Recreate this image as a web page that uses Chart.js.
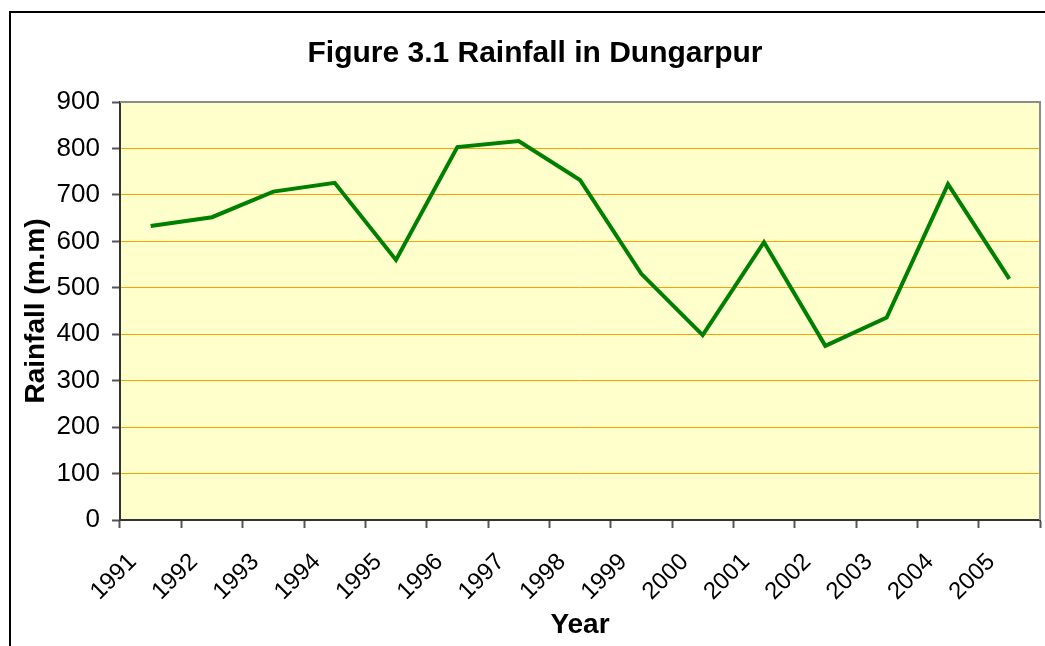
<!DOCTYPE html>
<html>
<head>
<meta charset="utf-8">
<script src="https://cdn.jsdelivr.net/npm/chart.js@4"></script>
<style>
  html, body { margin: 0; padding: 0; background: #fff; }
  #wrap { width: 1045px; height: 646px; position: relative; }
</style>
</head>
<body>
<div id="wrap"><canvas id="rainChart"></canvas></div>
<script>
// Données
const years = ['1991', '1992', '1993', '1994', '1995', '1996', '1997', '1998',
               '1999', '2000', '2001', '2002', '2003', '2004', '2005'];
const rainfall = [633, 652, 707, 726, 560, 803, 816, 732, 530, 398, 598, 375, 436, 723, 519];
const yMin = 0;
const yMax = 900;
const yStep = 100;

const FONT = '"Liberation Sans", Arial, sans-serif';

// Cadre extérieur + fond jaune de la zone de tracé
const framePlugin = {
    id: 'frame',
    beforeDraw(chart) {
        const ctx = chart.ctx;
        const a = chart.chartArea;
        ctx.save();
        ctx.fillStyle = '#ffffff';
        ctx.fillRect(0, 0, chart.width, chart.height);
        ctx.strokeStyle = '#000000';
        ctx.lineWidth = 2;
        ctx.beginPath();
        ctx.moveTo(10, chart.height);
        ctx.lineTo(10, 12);
        ctx.lineTo(chart.width, 12);
        ctx.stroke();
        ctx.fillStyle = '#FFFFCC';
        ctx.fillRect(a.left, a.top, a.right - a.left, a.bottom - a.top);
        ctx.restore();
    },
    afterDatasetsDraw(chart) {
        const ctx = chart.ctx;
        const a = chart.chartArea;
        ctx.save();
        ctx.strokeStyle = '#8c8c8c';
        ctx.lineWidth = 2;
        ctx.beginPath();
        ctx.moveTo(a.left, a.top);
        ctx.lineTo(a.right, a.top);
        ctx.lineTo(a.right, a.bottom);
        ctx.stroke();
        ctx.restore();
    }
};

const ctx = document.getElementById('rainChart').getContext('2d');
new Chart(ctx, {
    type: 'line',
    data: {
        labels: years,
        datasets: [{
            label: 'Rainfall',
            data: rainfall,
            borderColor: '#008000',
            borderWidth: 4,
            pointRadius: 0,
            tension: 0,
            fill: false
        }]
    },
    options: {
        responsive: true,
        maintainAspectRatio: false,
        animation: false,
        layout: {
            padding: { left: 30, right: 5, top: 12, bottom: 0 }
        },
        plugins: {
            legend: { display: false },
            tooltip: { enabled: false },
            title: {
                display: true,
                text: 'Figure 3.1 Rainfall in Dungarpur',
                color: '#000',
                font: { family: FONT, size: 30, weight: 'bold' },
                padding: { top: 24, bottom: 30 }
            }
        },
        scales: {
            x: {
                offset: true,
                afterFit: scale => {
                    scale.height = 126;
                    scale.paddingLeft = 0;
                    scale.paddingRight = 0;
                },
                grid: {
                    offset: true,
                    drawOnChartArea: false,
                    tickLength: 8,
                    tickColor: '#555',
                    tickWidth: 2
                },
                border: { color: '#333', width: 2 },
                ticks: {
                    color: '#000',
                    font: { family: FONT, size: 24 },
                    maxRotation: 45,
                    minRotation: 45,
                    padding: 20,
                    labelOffset: -18
                },
                title: {
                    display: true,
                    text: 'Year',
                    color: '#000',
                    font: { family: FONT, size: 28, weight: 'bold' },
                    padding: { top: 0, bottom: 4 }
                }
            },
            y: {
                min: yMin,
                max: yMax,
                afterFit: scale => { scale.width = 90; },
                grid: {
                    color: '#FFA000',
                    lineWidth: 1,
                    tickLength: 8,
                    tickColor: '#555',
                    tickWidth: 2
                },
                border: { color: '#333', width: 2 },
                ticks: {
                    stepSize: yStep,
                    color: '#000',
                    font: { family: FONT, size: 26 },
                    padding: 12
                },
                title: {
                    display: true,
                    text: 'Rainfall (m.m)',
                    color: '#000',
                    font: { family: FONT, size: 28, weight: 'bold' },
                    padding: { top: -11, bottom: 0 }
                }
            }
        }
    },
    plugins: [framePlugin]
});
</script>
</body>
</html>
